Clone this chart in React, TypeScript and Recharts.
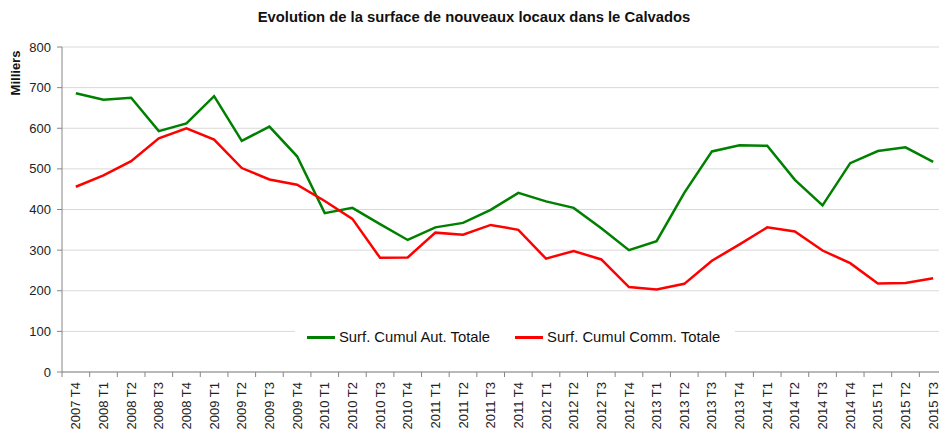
import { LineChart, Line, XAxis, YAxis, CartesianGrid, Legend } from 'recharts';

const categories = [
  '2007 T4',
  '2008 T1', '2008 T2', '2008 T3', '2008 T4',
  '2009 T1', '2009 T2', '2009 T3', '2009 T4',
  '2010 T1', '2010 T2', '2010 T3', '2010 T4',
  '2011 T1', '2011 T2', '2011 T3', '2011 T4',
  '2012 T1', '2012 T2', '2012 T3', '2012 T4',
  '2013 T1', '2013 T2', '2013 T3', '2013 T4',
  '2014 T1', '2014 T2', '2014 T3', '2014 T4',
  '2015 T1', '2015 T2', '2015 T3'
];

// Surf. Cumul Aut. Totale (milliers)
const autTotale = [
  686, 670, 675, 593, 612, 679, 569, 604, 531, 391, 404, 364, 325, 356, 367, 399,
  441, 420, 404, 354, 300, 322, 441, 543, 558, 557, 473, 410, 514, 544, 553, 517
];

// Surf. Cumul Comm. Totale (milliers)
const commTotale = [
  456, 484, 519, 575, 600, 572, 502, 474, 461, 421, 377, 281, 282, 343, 338, 362,
  350, 279, 298, 277, 209, 203, 217, 274, 314, 356, 346, 299, 268, 218, 219, 231
];

const yTicks = [0, 100, 200, 300, 400, 500, 600, 700, 800];

const seriesNames = ['Surf. Cumul Aut. Totale', 'Surf. Cumul Comm. Totale'];
const seriesColors = ['#008000', '#ff0000'];

const data = categories.map((c, i) => ({ name: c, aut: autTotale[i], comm: commTotale[i] }));

const FONT = '"Liberation Sans", Arial, sans-serif';
const W = 950;
const H = 435;
const Y_AXIS_W = 62;
const RIGHT = 3;
const BAND = (W - Y_AXIS_W - RIGHT) / categories.length;

function XTick(props: any) {
  const { x, y, payload, index } = props;
  const ty = y + 10;
  const isLast = index === categories.length - 1;
  return (
    <g>
      <line x1={x - BAND / 2} y1={y} x2={x - BAND / 2} y2={y + 5} stroke="#868686" />
      {isLast && <line x1={x + BAND / 2} y1={y} x2={x + BAND / 2} y2={y + 5} stroke="#868686" />}
      <text
        x={x}
        y={ty}
        dy="0.35em"
        transform={`rotate(-90, ${x}, ${ty})`}
        textAnchor="end"
        fontSize={13}
        fill="#222"
        fontFamily={FONT}
      >
        {payload.value}
      </text>
    </g>
  );
}

function LegendBox(props: any) {
  const payload = props.payload || [];
  return (
    <div
      style={{
        display: 'flex',
        alignItems: 'center',
        height: 30,
        background: 'white',
        paddingLeft: 12,
        fontFamily: FONT,
        fontSize: 14.8,
        color: '#111',
        whiteSpace: 'nowrap'
      }}
    >
      {payload.map((p: any, i: number) => (
        <span
          key={i}
          style={{ display: 'inline-flex', alignItems: 'center', marginRight: 25, flexShrink: 0 }}
        >
          <span style={{ display: 'inline-block', width: 28, height: 3, background: p.color, marginRight: 4 }} />
          <span>{p.value}</span>
        </span>
      ))}
    </div>
  );
}

export default function App() {
  return (
    <div
      style={{
        position: 'absolute',
        left: 0,
        top: 0,
        width: 939,
        height: 435,
        overflow: 'hidden',
        background: 'white',
        fontFamily: FONT
      }}
    >
      <div
        style={{
          position: 'absolute',
          left: 0,
          width: 948,
          top: 9,
          textAlign: 'center',
          fontWeight: 'bold',
          fontSize: 14.8,
          color: '#111'
        }}
      >
        Evolution de la surface de nouveaux locaux dans le Calvados
      </div>
      <div
        style={{
          position: 'absolute',
          left: 15,
          top: 73,
          transform: 'translate(-50%, -50%) rotate(-90deg)',
          fontWeight: 'bold',
          fontSize: 13,
          color: '#111',
          whiteSpace: 'nowrap'
        }}
      >
        Milliers
      </div>
      <LineChart width={W} height={H} data={data} margin={{ top: 47, right: RIGHT, bottom: 0, left: 0 }}>
        <CartesianGrid vertical={false} stroke="#d9d9d9" />
        <XAxis
          dataKey="name"
          height={63}
          interval={0}
          padding={{ left: BAND / 2, right: BAND / 2 }}
          tickSize={0}
          tickMargin={0}
          tickLine={false}
          axisLine={{ stroke: '#868686' }}
          tick={<XTick />}
        />
        <YAxis
          width={Y_AXIS_W}
          domain={[0, 800]}
          ticks={yTicks}
          tickSize={5}
          tickMargin={6}
          axisLine={{ stroke: '#868686' }}
          tickLine={{ stroke: '#868686' }}
          tick={{ fontSize: 13, fill: '#222', fontFamily: FONT }}
        />
        <Legend
          layout="horizontal"
          verticalAlign="middle"
          align="center"
          content={<LegendBox />}
          wrapperStyle={{ left: 295, top: 322, width: 440, height: 30 }}
        />
        <Line
          type="linear"
          dataKey="aut"
          name={seriesNames[0]}
          stroke={seriesColors[0]}
          strokeWidth={2.5}
          dot={false}
          isAnimationActive={false}
        />
        <Line
          type="linear"
          dataKey="comm"
          name={seriesNames[1]}
          stroke={seriesColors[1]}
          strokeWidth={2.5}
          dot={false}
          isAnimationActive={false}
        />
      </LineChart>
    </div>
  );
}
